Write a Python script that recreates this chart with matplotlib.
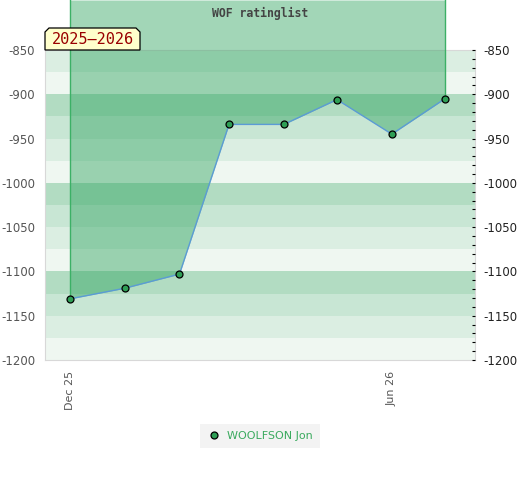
import numpy as np
import matplotlib.pyplot as plt
import matplotlib.dates as mdates
from matplotlib.patches import Polygon
from datetime import datetime

plt.rcParams['axes.unicode_minus'] = False

# rating list snapshots
dates = [datetime(2025, 12, 1), datetime(2026, 1, 1), datetime(2026, 2, 1),
         datetime(2026, 3, 1), datetime(2026, 4, 1), datetime(2026, 5, 1),
         datetime(2026, 6, 1), datetime(2026, 7, 1)]
ratings = [-1131, -1119, -1103, -934, -934, -906, -945, -905]
player = 'WOOLFSON Jon'
season = '2025–2026'
title = 'WOF ratinglist'

y_ticks = [-1200, -1150, -1100, -1050, -1000, -950, -900, -850]
x_ticks = [datetime(2025, 12, 1), datetime(2026, 6, 1)]

# background band colours, 25 rating points each, going down from -850
band_cols = ['#dbeee2', '#eff7f1', '#b2dcc2', '#c8e6d4']

fig = plt.figure(figsize=(5.2, 4.8), dpi=100)
ax = fig.add_axes([45/520, 120/480, 430/520, 310/480])

ax.set_ylim(-1200, -850)
ax.set_xlim(datetime(2025, 11, 17), datetime(2026, 7, 18))

lo = -850
i = 0
while lo > -1200:
    ax.axhspan(lo - 25, lo, color=band_cols[i % 4], lw=0, zorder=0)
    lo -= 25
    i += 1

# fill reaches up to the top edge of the figure
ytop = ax.transData.inverted().transform(fig.transFigure.transform((0, 1)))[1]
green = '#28a05a'
ax.fill_between(dates, ratings, ytop, color=green, alpha=0.43, lw=0,
                clip_on=False, zorder=2)
ax.plot([dates[0], dates[0]], [ratings[0], ytop], color='#3cb066', lw=1,
        clip_on=False, zorder=3)
ax.plot([dates[-1], dates[-1]], [ratings[-1], ytop], color='#3cb066', lw=1,
        clip_on=False, zorder=3)
ax.plot(dates, ratings, color='#5b9bd5', lw=1, zorder=4)
ax.plot(dates, ratings, 'o', ms=5, mfc='#2e9e55', mec='black', mew=0.9,
        zorder=5, clip_on=False, label=player)

for s in ax.spines.values():
    s.set_color('#d8d8d8')
    s.set_zorder(1)

ax.set_yticks(y_ticks)
ax.set_xticks(x_ticks)
ax.xaxis.set_major_formatter(mdates.DateFormatter('%b %y'))
ax.tick_params(axis='x', length=0, labelsize=8, labelcolor='#555555',
               labelrotation=90, pad=8)
ax.tick_params(axis='y', length=0, labelsize=8.5, labelcolor='#555555', pad=7)

ax2 = ax.twinx()
ax2.set_ylim(-1200, -850)
ax2.set_yticks(y_ticks)
ax2.set_yticks(np.arange(-1200, -849, 10), minor=True)
ax2.tick_params(axis='y', which='both', direction='in', length=2.5, width=0.8,
                labelsize=8.5, labelcolor='#222222', pad=6)
for s in ax2.spines.values():
    s.set_visible(False)

fig.text(260/520, 1 - 13/480, title, ha='center', va='center', fontsize=8.3,
         family='DejaVu Sans Mono', weight='bold', color='#444444')

# season label box with cut top corners
x0, x1, yb, yt, c = 45/520, 140/520, 1 - 50/480, 1 - 28/480, 4
cx, cy = c/520, c/480
box = Polygon([(x0, yb), (x0, yt - cy), (x0 + cx, yt), (x1 - cx, yt),
               (x1, yt - cy), (x1, yb)], closed=True, transform=fig.transFigure,
              facecolor='#ffffcc', edgecolor='black', lw=0.9, zorder=10)
fig.add_artist(box)
fig.text((x0 + x1)/2, (yb + yt)/2 - 0.002, season, ha='center', va='center',
         fontsize=11, family='DejaVu Sans Mono', color='#990000', zorder=11)

leg = fig.legend(loc='center', bbox_to_anchor=(260/520, 1 - 436/480),
                 frameon=True, fontsize=8, handletextpad=0.6, borderpad=0.35,
                 handlelength=1.2)
leg.get_frame().set_facecolor('#f0f0f0')
leg.get_frame().set_edgecolor('none')
leg.get_frame().set_boxstyle('square')
for t in leg.get_texts():
    t.set_color('#3aaa5e')

fig.savefig('out.png', dpi=100)
